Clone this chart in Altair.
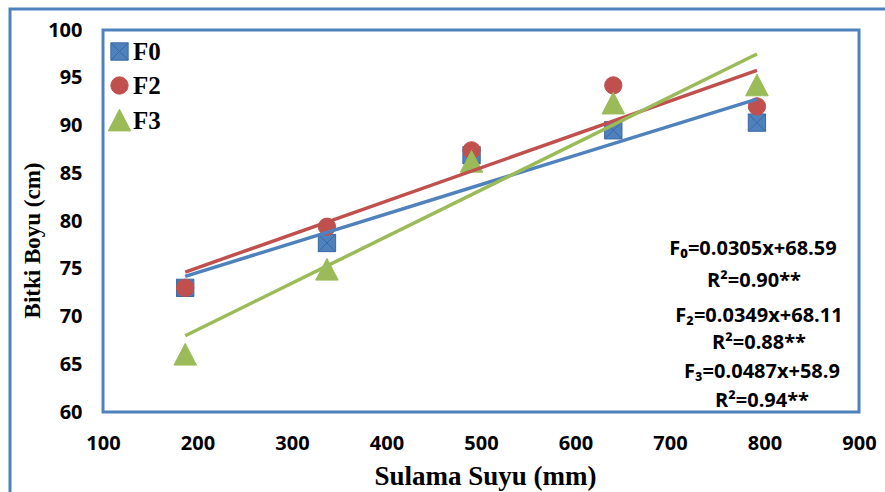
import altair as alt
import pandas as pd

# ---- data ----
water = [187, 337, 490, 640, 792]
f0 = [73.0, 77.7, 86.9, 89.5, 90.3]
f2 = [73.0, 79.4, 87.4, 94.2, 92.0]
f3 = [66.0, 74.9, 86.2, 92.3, 94.2]
series_names = ["F0", "F2", "F3"]
colors = ["#4F81BD", "#C0504D", "#9BBB59"]
edge_colors = ["#3A68A6", "#C0504D", "#9BBB59"]
equations = ["F₀=0.0305x+68.59", "R²=0.90**", "F₂=0.0349x+68.11",
             "R²=0.88**", "F₃=0.0487x+58.9", "R²=0.94**"]
x_ticks = list(range(100, 901, 100))
y_ticks = list(range(60, 101, 5))

rows = []
for name, vals in zip(series_names, [f0, f2, f3]):
    for w, v in zip(water, vals):
        rows.append({"water": w, "height": v, "series": name})
df = pd.DataFrame(rows)
one = pd.DataFrame({"k": [0]})

W, H = 756, 382
x_scale = alt.Scale(domain=[100, 900], nice=False, zero=False)
y_scale = alt.Scale(domain=[60, 100], nice=False, zero=False)

x_axis = alt.Axis(values=x_ticks, title="Sulama Suyu (mm)", grid=False, ticks=False,
                  tickSize=0, domain=False, labelFont="Open Sans", labelFontWeight="bold",
                  labelFontSize=20, labelColor="black", labelPadding=21,
                  labelFlush=False, labelOverlap=False,
                  titleFont="Liberation Serif", titleFontWeight="bold",
                  titleFontSize=27, titleColor="black", titleX=382, titleY=64,
                  titleBaseline="middle", titleAlign="center")
y_axis = alt.Axis(values=y_ticks, title="Bitki Boyu (cm)", grid=False, ticks=False,
                  tickSize=0, domain=False, labelFont="Open Sans", labelFontWeight="bold",
                  labelFontSize=20, labelColor="black", labelPadding=21,
                  labelOverlap=False,
                  titleFont="Liberation Serif", titleFontWeight="bold",
                  titleFontSize=23, titleColor="black", titleX=-71, titleY=210,
                  titleBaseline="middle", titleAlign="center", titleAngle=270)

square_x = "M-1,-1H1V1H-1Z M-1,-1L1,1 M1,-1L-1,1"
triangle = "M0,-1.3L1.3,1.2L-1.3,1.2Z"


def legend():
    return alt.Legend(title=None, orient="none", legendX=4, legendY=9,
                      direction="vertical", labelFont="Liberation Serif",
                      labelFontWeight="bold", labelFontSize=25, labelColor="black",
                      symbolSize=300, labelOffset=1, rowPadding=8, padding=0,
                      symbolStrokeWidth=1)


frame = alt.Chart(one).mark_rect(fill="transparent", stroke="#4F81BD",
                                 strokeWidth=3).encode(
    x=alt.value(-93), x2=alt.value(900), y=alt.value(-21), y2=alt.value(600))

points = alt.Chart(df).mark_point(filled=True, size=300, opacity=1,
                                  strokeWidth=1).encode(
    x=alt.X("water:Q", scale=x_scale, axis=x_axis),
    y=alt.Y("height:Q", scale=y_scale, axis=y_axis),
    color=alt.Color("series:N", scale=alt.Scale(domain=series_names, range=colors),
                    legend=legend()),
    shape=alt.Shape("series:N",
                    scale=alt.Scale(domain=series_names,
                                    range=[square_x, "circle", triangle]),
                    legend=legend()),
    stroke=alt.Stroke("series:N",
                      scale=alt.Scale(domain=series_names, range=edge_colors),
                      legend=legend()),
)

line_layers = []
for n, c in zip(series_names, colors):
    line_layers.append(
        alt.Chart(df).transform_filter(alt.datum.series == n)
        .transform_regression("water", "height")
        .mark_line(color=c, strokeWidth=3.5)
        .encode(x=alt.X("water:Q", scale=x_scale, axis=x_axis),
                y=alt.Y("height:Q", scale=y_scale, axis=y_axis))
    )

eq_pos = [(650, 219), (651, 251), (656, 286), (656, 313), (659, 342), (659, 371)]
text_layers = []
for s, (px, py) in zip(equations, eq_pos):
    text_layers.append(
        alt.Chart(one).mark_text(font="Open Sans", fontWeight="bold", fontSize=20,
                                 color="black", align="center", baseline="middle")
        .encode(x=alt.value(px), y=alt.value(py), text=alt.value(s))
    )

chart = alt.layer(frame, points, *line_layers, *text_layers).properties(
    width=W, height=H,
    autosize=alt.AutoSizeParams(type="none"),
    padding={"left": 103, "top": 30, "right": 26, "bottom": 80},
    background="white",
).configure_view(stroke="#4F81BD", strokeWidth=3)

chart.save("out.html", embed_options={"renderer": "svg", "actions": False})
